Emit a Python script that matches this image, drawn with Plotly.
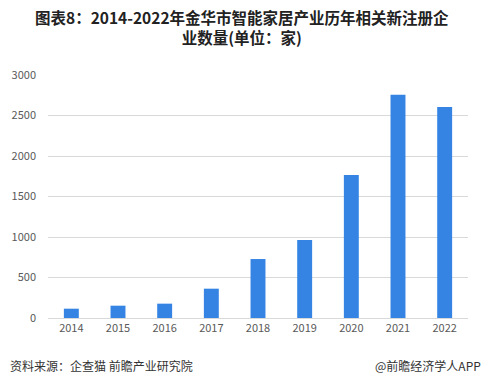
import plotly.graph_objects as go

years = ["2014", "2015", "2016", "2017", "2018", "2019", "2020", "2021", "2022"]
counts = [115, 152, 177, 362, 728, 963, 1765, 2757, 2605]
y_ticks = [0, 500, 1000, 1500, 2000, 2500, 3000]

title_line1 = "图表8：2014-2022年金华市智能家居产业历年相关新注册企"
title_line2 = "业数量(单位：家)"
source_text = "资料来源：企查猫 前瞻产业研究院"
brand_text = "@前瞻经济学人APP"

font_family = "Microsoft YaHei, Noto Sans CJK SC, sans-serif"

W, H = 484, 385
ML, MR, MT, MB = 48, 16, 75, 67
plot_w = W - ML - MR
plot_h = H - MT - MB


def px(pix):
    return (pix - ML) / plot_w


def py(pix):
    return (H - MB - pix) / plot_h


fig = go.Figure()
fig.add_trace(go.Bar(
    x=years, y=counts,
    marker=dict(color="#3584E4", line=dict(width=0)),
    width=0.32,
    hoverinfo="x+y",
))

fig.update_layout(
    width=W, height=H,
    paper_bgcolor="white", plot_bgcolor="white",
    margin=dict(l=ML, r=MR, t=MT, b=MB),
    showlegend=False,
    font=dict(family=font_family, color="#595959", size=11),
    xaxis=dict(
        type="category", showgrid=False, showline=True, linecolor="#d9d9d9",
        linewidth=1, ticks="", tickfont=dict(size=11, color="#595959"),
        fixedrange=True,
    ),
    yaxis=dict(
        range=[0, 3000], tickvals=y_ticks, showgrid=True, gridcolor="#d9d9d9",
        gridwidth=1, zeroline=False, showline=False, ticks="",
        tickfont=dict(size=11, color="#595959"), ticklabelstandoff=11,
        fixedrange=True,
    ),
)

fig.add_annotation(text="<b>" + title_line1 + "<br>" + title_line2 + "</b>",
                   x=px(242), y=py(27),
                   xref="paper", yref="paper", xanchor="center", yanchor="middle",
                   showarrow=False, align="center",
                   font=dict(family=font_family, size=15.5, color="#222222"))
fig.add_annotation(text=source_text, x=px(8), y=py(365),
                   xref="paper", yref="paper", xanchor="left", yanchor="middle",
                   showarrow=False,
                   font=dict(family=font_family, size=12, color="#333333"))
fig.add_annotation(text=brand_text, x=px(483), y=py(365),
                   xref="paper", yref="paper", xanchor="right", yanchor="middle",
                   showarrow=False,
                   font=dict(family=font_family, size=12, color="#333333"))

fig.write_html(
    "out.html",
    config={"displayModeBar": False},
    post_script="document.body.style.margin='0';document.body.style.overflow='hidden';",
)
